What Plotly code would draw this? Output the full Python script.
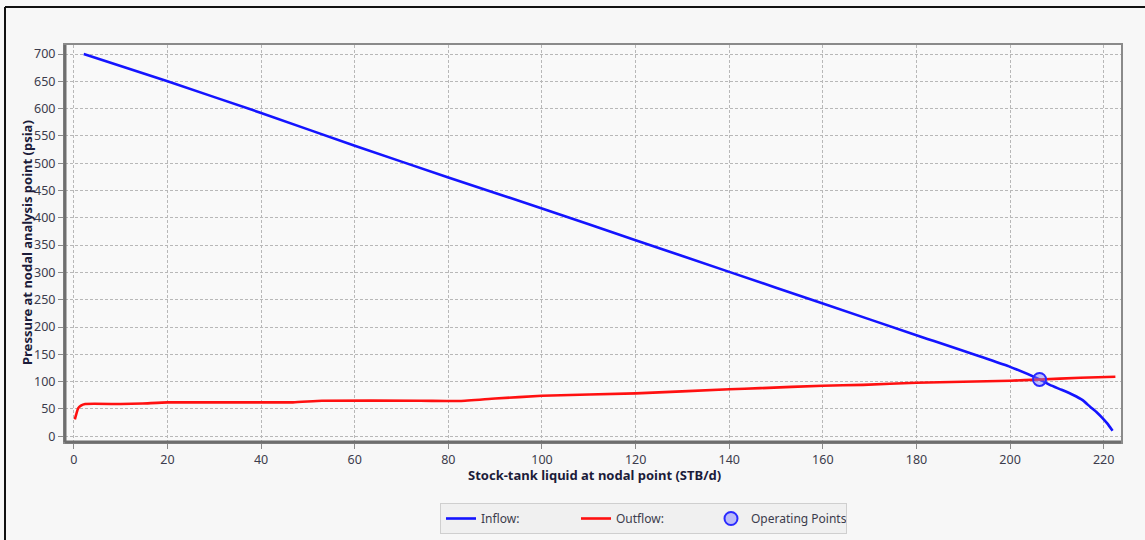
import plotly.graph_objects as go

# Inflow performance (IPR) curve: liquid rate (STB/d) vs. pressure (psia)
inflow_rate = [2.1, 20, 40, 60, 80, 100, 120, 140, 160, 180, 200, 206.3,
               208.5, 211, 213.5, 215.5, 217.1, 218.5, 219.6, 220.8, 221.9]
inflow_pressure = [700, 650, 592, 532, 474, 417, 359, 301, 243, 185, 127, 104,
                   94, 85, 75.5, 66, 54, 44, 34.6, 23, 10]

# Outflow (tubing performance) curve
outflow_rate = [0.2, 0.5, 0.9, 1.5, 2.4, 10, 14.7, 20, 46.8, 53, 74, 82.5,
                90, 100, 120, 140, 146.6, 160, 168.6, 180, 200, 206.3, 215, 222.5]
outflow_pressure = [31, 40, 51, 56, 59, 59, 60, 62, 62, 65, 65, 64.5,
                    69, 74, 78.5, 86, 88, 92.5, 94, 98, 101.7, 104, 107, 109]

# Operating point (intersection of inflow and outflow)
op_rate = [206.3]
op_pressure = [104]

x_ticks = list(range(0, 221, 20))
y_ticks = list(range(0, 701, 50))

x_title = "Stock-tank liquid at nodal point (STB/d)"
y_title = "Pressure at nodal analysis point (psia)"

FONT = "Noto Sans"
L, R, T, B = 65, 24, 45, 98
W, H = 1145, 540
PW, PH = W - L - R, H - T - B


def px_x(px):
    return (px - L) / PW


def px_y(py):
    return (H - B - py) / PH


fig = go.Figure()

fig.add_trace(go.Scatter(
    x=inflow_rate, y=inflow_pressure, mode="lines", name="Inflow:",
    line=dict(color="#1414ff", width=2.6, shape="spline", smoothing=0.4),
))
fig.add_trace(go.Scatter(
    x=outflow_rate, y=outflow_pressure, mode="lines", name="Outflow:",
    line=dict(color="#ff1010", width=2.6, shape="spline", smoothing=0.4),
))
fig.add_trace(go.Scatter(
    x=op_rate, y=op_pressure, mode="markers", name="Operating Points",
    marker=dict(symbol="circle", size=13, color="rgba(120,120,255,0.45)",
                line=dict(color="#2a2aff", width=2)),
))

axis_common = dict(
    showgrid=True, gridcolor="#b8b8b8", gridwidth=1, griddash="3px,2px",
    showline=True, linecolor="#8a8a8a", linewidth=2, mirror=True,
    ticks="outside", ticklen=5, tickcolor="#8a8a8a", tickwidth=1,
    zeroline=False, automargin=False,
    tickfont=dict(family=FONT, size=12.5, color="#3c3c4c"),
)

fig.update_xaxes(range=[-1.9, 223.7], tickvals=x_ticks, **axis_common)
fig.update_yaxes(range=[-10.6, 716.5], tickvals=y_ticks, **axis_common)

title_font = dict(family=FONT, size=13, color="#1c1c3a")
annotations = [
    dict(text=f"<b>{x_title}</b>", xref="paper", yref="paper",
         x=px_x(594), y=px_y(475), xanchor="center", yanchor="middle",
         showarrow=False, font=title_font),
    dict(text=f"<b>{y_title}</b>", xref="paper", yref="paper",
         x=px_x(27), y=px_y(243), xanchor="center", yanchor="middle",
         textangle=-90, showarrow=False, font=title_font),
]

shapes = [
    # heavier left and bottom edges of the plot frame
    dict(type="line", xref="paper", yref="paper", x0=0, x1=0, y0=0, y1=1,
         line=dict(color="#6e6e6e", width=3)),
    dict(type="line", xref="paper", yref="paper", x0=0, x1=1, y0=0, y1=0,
         line=dict(color="#6e6e6e", width=3)),
    # document frame around the figure
    dict(type="line", xref="paper", yref="paper", x0=px_x(5), x1=px_x(W + 5),
         y0=px_y(7), y1=px_y(7), line=dict(color="#111111", width=2)),
    dict(type="line", xref="paper", yref="paper", x0=px_x(5), x1=px_x(5),
         y0=px_y(7), y1=px_y(H + 5), line=dict(color="#111111", width=2)),
]

fig.update_layout(
    width=W, height=H,
    margin=dict(l=L, r=R, t=T, b=B, autoexpand=False),
    paper_bgcolor="#f7f7f7", plot_bgcolor="#f9f9f9",
    shapes=shapes,
    annotations=annotations,
    showlegend=True,
    legend=dict(
        orientation="h", xref="container", yref="container",
        x=440 / W, y=1 - 503 / H, xanchor="left", yanchor="top",
        bgcolor="#f0f0f0", bordercolor="#cfcfcf", borderwidth=1,
        font=dict(family=FONT, size=12, color="#3c3c4c"),
        entrywidth=90, itemwidth=30,
    ),
)

fig.write_html("out.html")
